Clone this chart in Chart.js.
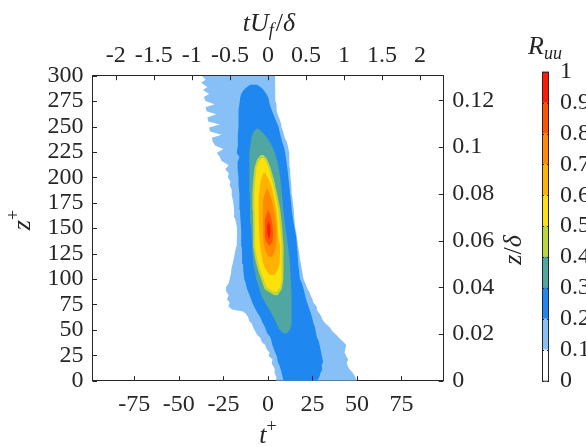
<!DOCTYPE html>
<html>
<head>
<meta charset="utf-8">
<script src="https://cdn.jsdelivr.net/npm/chart.js@4.4.1/dist/chart.umd.min.js"></script>
<style>
  body { margin: 0; background: #fff; }
  #wrap { position: relative; width: 586px; height: 447px; }
  #main, #cbar { position: absolute; top: 0; }
  #main { left: 0; }
  #cbar { left: 530px; }
</style>
</head>
<body>
<div id="wrap">
  <canvas id="main" width="586" height="447"></canvas>
  <canvas id="cbar" width="56" height="447"></canvas>
</div>
<script>
// axes
const tPlusRange = [-98.5, 98.5];
const tPlusTicks = [-75, -50, -25, 0, 25, 50, 75];
const tOuterRange = [-2.307, 2.307];
const tOuterTicks = [-2, -1.5, -1, -0.5, 0, 0.5, 1, 1.5, 2];
const zPlusRange = [0, 300];
const zPlusTicks = [0, 25, 50, 75, 100, 125, 150, 175, 200, 225, 250, 275, 300];
const zDeltaRange = [0, 0.1306];
const zDeltaTicks = [0, 0.02, 0.04, 0.06, 0.08, 0.1, 0.12];

// colour bar
const cbEdges = [0, 0.1, 0.2, 0.3, 0.4, 0.5, 0.6, 0.7, 0.8, 0.9, 1];
const cbColors = ['#ffffff', '#87bff7', '#1e88f0', '#50a6a1', '#bdd63c', '#ffe10a', '#ffb300', '#ff8a00', '#ff5500', '#ff1a00'];

// contour levels R_uu = 0.1 ... 0.9 : z+ rows with left / right edge in t+
const lv1Z = [0, 4, 8, 12, 17, 21, 24, 28, 31, 35, 38, 42, 45, 49, 52, 56, 59, 63, 66, 68, 70, 73, 77, 80, 84, 88, 92, 96, 100, 105, 110, 115, 120, 126, 132, 138, 145, 152, 160, 168, 176, 184, 188, 192, 196, 200, 204, 208, 212, 216, 220, 224, 228, 231, 235, 239, 242, 245, 249, 252, 255, 259, 262, 265, 269, 272, 275, 279, 282, 286, 289, 293, 296, 300];
const lv1L = [4.5, 4.8, 3.6, 3.8, 2.1, 2.6, 0.5, 0.9, -0.7, -1.5, -3.5, -4.2, -6, -7.2, -8.2, -9, -10.5, -11.2, -12.5, -14, -20, -22.2, -21.5, -23, -22, -23.5, -23.5, -22, -21.5, -20.8, -20.5, -19.8, -19.2, -18.5, -17.8, -17.5, -17.3, -17.5, -18.5, -19, -19.5, -20.5, -20.3, -21.5, -21, -22.5, -22, -24, -22, -26, -27, -28.7, -25, -29.5, -31, -31.5, -26, -32.5, -33, -27, -33.5, -34, -29, -34.5, -35, -30, -35, -36, -33, -36.5, -34, -37.5, -35, -37];
const lv1R = [50, 49, 47.5, 45.5, 44.3, 45, 44, 43, 43.5, 44, 42.4, 40, 38.5, 36, 35, 32.5, 31, 30, 29, 28, 27.5, 27.4, 25.5, 25, 24, 23, 21.8, 21, 20, 19.5, 19, 18.5, 18, 17.5, 17, 16.5, 16, 15.2, 14.8, 14.5, 14, 13.5, 13.5, 13, 13, 12.5, 12.8, 12.5, 12.2, 12, 12, 12, 11.5, 11.2, 10.6, 9.5, 9, 8.5, 7.7, 7.5, 7, 6.2, 5.5, 5, 5, 4.8, 4.5, 4.5, 4.2, 4, 4, 4, 4, 4];

const lv2Z = [0, 4, 7, 11, 15, 19, 24, 29, 35, 39, 43, 47, 52, 57, 63, 67, 72, 77, 83, 87, 92, 96, 100, 108, 115, 124, 132, 140, 148, 158, 168, 176, 184, 192, 200, 208, 215, 220, 224, 230, 235, 242, 250, 258, 266, 272, 278, 282, 285, 288, 291];
const lv2L = [8.7, 8.2, 7.8, 7.2, 6.5, 5.5, 5, 3.8, 2.5, 2, 1.3, -0.5, -1.5, -3, -4.4, -6, -7.5, -8.8, -10, -11, -12, -12.5, -13.3, -13.8, -14, -14.5, -14.7, -15, -15, -15.4, -15.7, -16, -16, -16.5, -16.5, -17, -17, -16, -17.5, -17, -17, -16.8, -16.5, -16.5, -16.5, -16, -15.6, -15, -14, -12.5, -10];
const lv2R = [27.5, 29, 29.4, 30.5, 30.2, 31, 30.3, 29.8, 29, 28.5, 27.5, 27, 26.5, 25.5, 24.7, 24, 23, 22, 21, 20.5, 19.8, 19, 18, 17.5, 17, 16.7, 16.3, 16, 15.2, 14.2, 13.4, 13, 12.5, 12, 11.5, 11, 10.5, 10, 9.7, 9, 8, 7, 5.9, 4, 2.2, 1, 0.3, -0.8, -2, -3.5, -6];

const lv3Z = [46.5, 50, 56, 66, 75, 83, 100, 115, 130, 142, 155, 168, 185, 200, 212, 224, 232, 240, 245, 248];
const lv3L = [9, 6.5, 4.9, 2.1, -1, -3.5, -6.5, -8.2, -8.8, -9.1, -9.6, -10, -10.2, -10.4, -10.4, -10.4, -9.8, -9.1, -8, -6.2];
const lv3R = [10.5, 12.4, 13.3, 13.3, 13.4, 13.3, 12.8, 12.4, 11.5, 10.6, 9.5, 8.7, 7.8, 6.9, 5.8, 4, 2, -0.9, -3.5, -5.5];

const lv4Z = [84, 90, 100, 109, 120, 132, 151, 168, 184, 198, 210, 218, 222];
const lv4L = [3.5, -1.8, -3.8, -5.6, -7.2, -8.3, -8.3, -8.5, -8.7, -8.2, -7.5, -6, -4];
const lv4R = [5.5, 7.8, 8.5, 8.8, 8.9, 8.8, 8, 7, 5.2, 3.4, 1.4, -0.5, -2.5];

const lv5Z = [87.5, 92, 100, 109, 120, 132, 151, 168, 184, 198, 210, 216, 219];
const lv5L = [3, -0.7, -2.5, -4.4, -6, -7.2, -7.2, -7.4, -7.6, -7, -6.3, -5, -3.5];
const lv5R = [5, 6.9, 7.5, 7.7, 7.8, 7.7, 6.9, 5.8, 4, 2.2, 0.2, -1.2, -2.5];

const lv6Z = [104, 110, 115, 125, 132, 142, 155, 168, 180, 191, 198, 204];
const lv6L = [1, -1.5, -2.6, -3.8, -4.4, -4.8, -5, -5.4, -5, -4.5, -3.8, -2.6];
const lv6R = [3.5, 5.8, 6.5, 6.8, 6.9, 5.8, 5.3, 4.9, 3.5, 2.1, 0.5, -1.5];

const lv7Z = [122, 128, 138, 151, 165, 178, 184, 188];
const lv7L = [0.5, -1.5, -2.6, -2.9, -2.8, -2.6, -1.8, -0.9];
const lv7R = [2.5, 4.2, 4.9, 4.9, 3.8, 2.1, 1, 0];

const lv8Z = [133, 137, 142, 150, 158, 164, 168];
const lv8L = [0.5, -1, -1.7, -1.8, -1.7, -0.8, 0.2];
const lv8R = [1.2, 2.5, 3, 2.8, 2.1, 1.2, 0.4];

const lv9Z = [140, 146, 152, 157];
const lv9L = [0.4, -0.5, -0.4, 0.3];
const lv9R = [0.9, 1.5, 1.3, 0.6];

const levels = [
  [lv1Z, lv1L, lv1R], [lv2Z, lv2L, lv2R], [lv3Z, lv3L, lv3R],
  [lv4Z, lv4L, lv4R], [lv5Z, lv5L, lv5R], [lv6Z, lv6L, lv6R],
  [lv7Z, lv7L, lv7R], [lv8Z, lv8L, lv8R], [lv9Z, lv9L, lv9R],
];

const INK = '#262626';
const SERIF = '"Liberation Serif", "Times New Roman", serif';

function polygon(z, left, right) {
  const pts = z.map((v, i) => ({ x: left[i], y: v }));
  for (let i = z.length - 1; i >= 0; i--) pts.push({ x: right[i], y: z[i] });
  return pts;
}

// text with italic runs and sub/superscripts: [text, italic, shift]
function drawMath(ctx, runs, cx, cy, size, rotate) {
  const fontFor = r => `${r[1] ? 'italic ' : ''}${r[2] ? Math.round(size * 0.7) : size}px ${SERIF}`;
  ctx.save();
  ctx.translate(cx, cy);
  if (rotate) ctx.rotate(-Math.PI / 2);
  let w = 0;
  runs.forEach(r => { ctx.font = fontFor(r); w += ctx.measureText(r[0]).width; });
  let x = -w / 2;
  ctx.fillStyle = INK;
  ctx.textBaseline = 'alphabetic';
  runs.forEach(r => {
    ctx.font = fontFor(r);
    const dy = r[2] > 0 ? -size * 0.4 : r[2] < 0 ? size * 0.22 : 0;
    ctx.fillText(r[0], x, size * 0.33 + dy);
    x += ctx.measureText(r[0]).width + (r[2] < 0 ? 2 : 0);
  });
  ctx.restore();
}

const insideTicks = {
  id: 'insideTicks',
  afterDraw(chart) {
    const { ctx, chartArea: a, scales } = chart;
    const len = 4.5;
    ctx.save();
    ctx.strokeStyle = INK;
    ctx.lineWidth = 1;
    ctx.beginPath();
    scales.x.ticks.forEach(t => {
      const p = Math.round(scales.x.getPixelForValue(t.value)) + 0.5;
      ctx.moveTo(p, a.bottom); ctx.lineTo(p, a.bottom - len);
    });
    scales.x2.ticks.forEach(t => {
      const p = Math.round(scales.x2.getPixelForValue(t.value)) + 0.5;
      ctx.moveTo(p, a.top); ctx.lineTo(p, a.top + len);
    });
    scales.y.ticks.forEach(t => {
      const p = Math.round(scales.y.getPixelForValue(t.value)) + 0.5;
      ctx.moveTo(a.left, p); ctx.lineTo(a.left + len, p);
    });
    scales.y2.ticks.forEach(t => {
      const p = Math.round(scales.y2.getPixelForValue(t.value)) + 0.5;
      ctx.moveTo(a.right, p); ctx.lineTo(a.right - len, p);
    });
    ctx.stroke();
    ctx.restore();

    drawMath(ctx, [['t', 1, 0], ['+', 0, 1]], 268, 434, 26);
    drawMath(ctx, [['t', 1, 0], ['U', 1, 0], ['f', 1, -1], ['/', 0, 0], ['δ', 1, 0]], 268, 22, 26);
    drawMath(ctx, [['z', 1, 0], ['+', 0, 1]], 21, 220, 26, true);
    drawMath(ctx, [['z', 1, 0], ['/', 0, 0], ['δ', 1, 0]], 512, 250, 26, true);
    drawMath(ctx, [['R', 1, 0], ['uu', 1, -1]], 545, 45, 26);
  }
};

const tickFont = { family: SERIF, size: 24 };
const fixedTicks = arr => scale => { scale.ticks = arr.map(v => ({ value: v })); };

new Chart(document.getElementById('main'), {
  type: 'scatter',
  data: {
    datasets: levels.map((lv, i) => ({
      data: polygon(lv[0], lv[1], lv[2]),
      showLine: true,
      fill: 'shape',
      backgroundColor: cbColors[i + 1],
      borderColor: cbColors[i + 1],
      borderWidth: 0,
      pointRadius: 0,
      tension: 0,
      order: levels.length - i,
    })),
  },
  options: {
    responsive: false,
    animation: false,
    events: [],
    plugins: { legend: { display: false }, tooltip: { enabled: false } },
    layout: { padding: 0 },
    scales: {
      x: {
        type: 'linear', position: 'bottom', min: tPlusRange[0], max: tPlusRange[1],
        afterBuildTicks: fixedTicks(tPlusTicks),
        afterFit: s => { s.height = 66.3; },
        grid: { drawOnChartArea: false, drawTicks: false },
        border: { color: INK, width: 1 },
        ticks: { font: tickFont, color: INK, padding: 10, maxRotation: 0, callback: v => String(v) },
      },
      x2: {
        type: 'linear', position: 'top', min: tOuterRange[0], max: tOuterRange[1],
        afterBuildTicks: fixedTicks(tOuterTicks),
        afterFit: s => { s.height = 75.7; },
        grid: { drawOnChartArea: false, drawTicks: false },
        border: { color: INK, width: 1 },
        ticks: { font: tickFont, color: INK, padding: 6, maxRotation: 0, autoSkip: false, callback: v => String(v) },
      },
      y: {
        type: 'linear', position: 'left', min: zPlusRange[0], max: zPlusRange[1],
        afterBuildTicks: fixedTicks(zPlusTicks),
        afterFit: s => { s.width = 92.5; },
        grid: { drawOnChartArea: false, drawTicks: false },
        border: { color: INK, width: 1 },
        ticks: { font: tickFont, color: INK, padding: 9, autoSkip: false, callback: v => String(v) },
      },
      y2: {
        type: 'linear', position: 'right', min: zDeltaRange[0], max: zDeltaRange[1],
        afterBuildTicks: fixedTicks(zDeltaTicks),
        afterFit: s => { s.width = 142.7; },
        grid: { drawOnChartArea: false, drawTicks: false },
        border: { color: INK, width: 1 },
        ticks: { font: tickFont, color: INK, padding: 9, autoSkip: false, callback: v => String(v) },
      },
    },
  },
  plugins: [insideTicks],
});

const cbFrame = {
  id: 'cbFrame',
  afterDraw(chart) {
    const { ctx, chartArea: a, scales } = chart;
    ctx.save();
    ctx.strokeStyle = INK;
    ctx.lineWidth = 1;
    ctx.strokeRect(a.left + 0.5, a.top + 0.5, a.right - a.left - 1, a.bottom - a.top);
    ctx.beginPath();
    scales.y.ticks.forEach(t => {
      const p = Math.round(scales.y.getPixelForValue(t.value)) + 0.5;
      ctx.moveTo(a.left, p); ctx.lineTo(a.left + 2, p);
      ctx.moveTo(a.right, p); ctx.lineTo(a.right - 2, p);
    });
    ctx.stroke();
    ctx.restore();
  }
};

new Chart(document.getElementById('cbar'), {
  type: 'bar',
  data: {
    labels: [''],
    datasets: cbColors.map((c, i) => ({
      data: [[cbEdges[i], cbEdges[i + 1]]],
      backgroundColor: c,
      borderWidth: 0,
      grouped: false,
      barPercentage: 1,
      categoryPercentage: 1,
    })),
  },
  options: {
    responsive: false,
    animation: false,
    events: [],
    plugins: { legend: { display: false }, tooltip: { enabled: false } },
    layout: { padding: { left: 12, top: 71.7, bottom: 66.3, right: 0 } },
    scales: {
      x: { display: false },
      y: {
        position: 'right', min: 0, max: 1,
        afterBuildTicks: fixedTicks(cbEdges),
        afterFit: s => { s.width = 37; },
        grid: { display: false },
        border: { display: false },
        ticks: { font: tickFont, color: INK, padding: 3, autoSkip: false, callback: v => String(v) },
      },
    },
  },
  plugins: [cbFrame],
});
</script>
</body>
</html>
